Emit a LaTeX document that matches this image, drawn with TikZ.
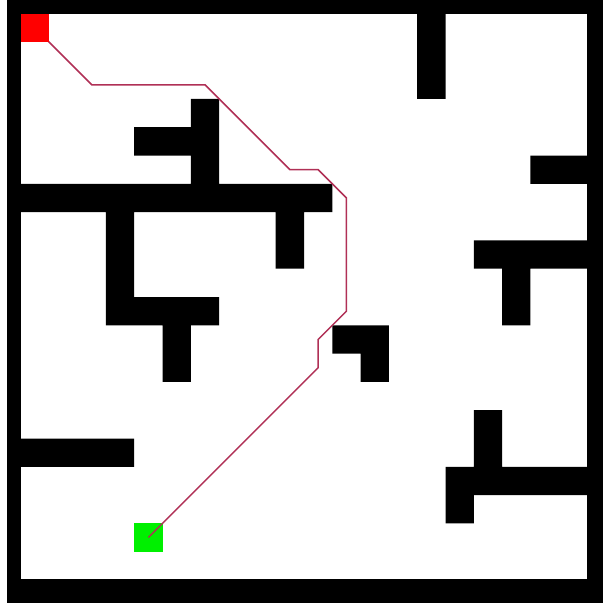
\documentclass[tikz,border=0pt]{standalone}
\definecolor{pathcol}{RGB}{176,48,86}
\definecolor{goalgreen}{RGB}{0,240,0}
\begin{document}
\begin{tikzpicture}[
  wall/.style={fill=black},
  cellmark/.style={draw=none, minimum size=28.3pt, inner sep=0pt, outer sep=0pt},
  route/.style={draw=pathcol, line width=1.5pt, line join=miter}
]
\useasboundingbox (0pt,0pt) rectangle (603pt,-606pt);
\fill[white] (0pt,0pt) rectangle (603pt,-606pt);
\fill[black] (7pt,0pt) rectangle (603pt,-603pt);
\fill[white] (21pt,-14pt) rectangle (587pt,-579pt);
\begin{scope}[shift={(21pt,-14pt)}, x=28.3pt, y=-28.3pt]
  \fill[wall]
    (4,4) rectangle ++(2,1)
    (6,3) rectangle ++(1,3)
    (0,6) rectangle ++(11,1)
    (3,7) rectangle ++(1,4)
    (3,10) rectangle ++(4,1)
    (5,11) rectangle ++(1,2)
    (9,7) rectangle ++(1,2)
    (14,0) rectangle ++(1,3)
    (18,5) rectangle ++(2,1)
    (16,8) rectangle ++(4,1)
    (17,9) rectangle ++(1,2)
    (11,11) rectangle ++(2,1)
    (12,12) rectangle ++(1,1)
    (16,14) rectangle ++(1,2)
    (15,16) rectangle ++(5,1)
    (15,17) rectangle ++(1,1)
    (0,15) rectangle ++(4,1);
  \node[cellmark, fill=goalgreen] (goal) at (4.5,18.5) {};
  \coordinate (p1) at (2.5,2.5);
  \coordinate (p2) at (6.5,2.5);
  \coordinate (p3) at (9.5,5.5);
  \coordinate (p4) at (10.5,5.5);
  \coordinate (p5) at (11.5,6.5);
  \coordinate (p6) at (11.5,10.5);
  \coordinate (p7) at (10.5,11.5);
  \coordinate (p8) at (10.5,12.5);
  \coordinate (startc) at (0.5,0.5);
  \draw[route] (startc) -- (p1) -- (p2) -- (p3) -- (p4) -- (p5) -- (p6) -- (p7) -- (p8) -- (goal.center);
  \node[cellmark, fill=red] (start) at (startc) {};
\end{scope}
\end{tikzpicture}
\end{document}
